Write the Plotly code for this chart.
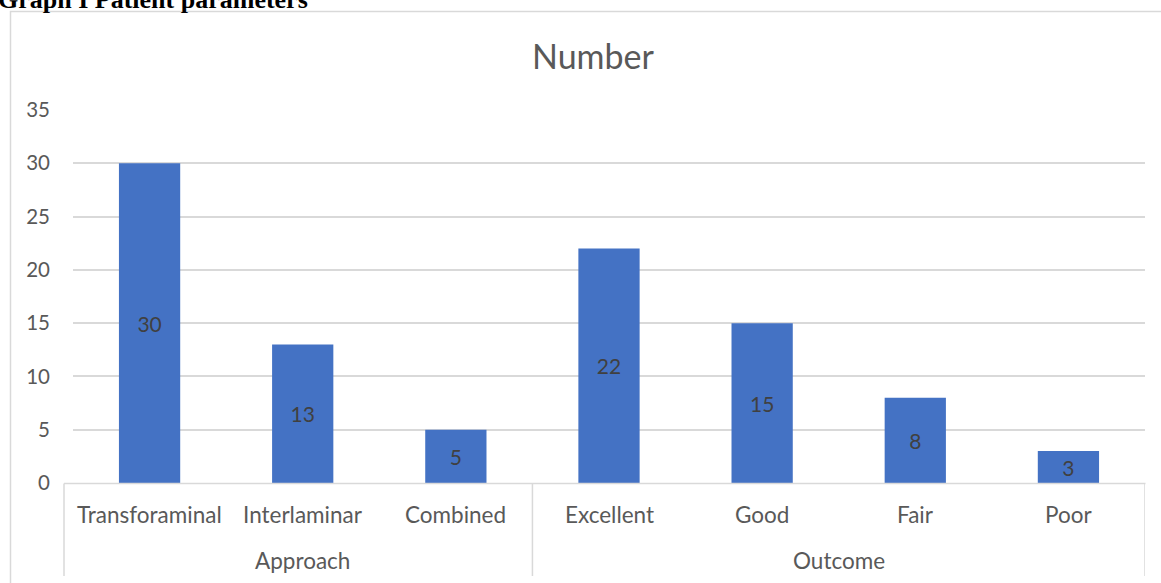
import plotly.graph_objects as go

categories = ["Transforaminal", "Interlaminar", "Combined", "Excellent", "Good", "Fair", "Poor"]
values = [30, 13, 5, 22, 15, 8, 3]
groups = ["Approach", "Outcome"]
group_sizes = [3, 4]
y_ticks = [0, 5, 10, 15, 20, 25, 30, 35]

W, H = 1161, 583
L, R, T, B = 73, 16, 110, 100
PW, PH = W - L - R, H - T - B

def px_x(p):
    return (p - L) / PW

def px_y(p):
    return 1 - (p - T) / PH

FONT = "Lato, Carlito, 'Open Sans', sans-serif"
GRID = "#d9d9d9"
TXT = "#595959"

x_idx = list(range(len(categories)))

fig = go.Figure(go.Bar(
    x=x_idx, y=values, width=0.4,
    marker=dict(color="#4472C4", line=dict(width=0)),
    text=[str(v) for v in values], textposition="inside",
    insidetextanchor="middle", constraintext="none",
    textfont=dict(family=FONT, size=21, color="#404040"),
    hoverinfo="skip",
))

shapes = []
# border box
shapes.append(dict(type="rect", xref="paper", yref="paper",
                   x0=px_x(10.5), x1=px_x(1200), y0=px_y(11.5), y1=px_y(700),
                   line=dict(color=GRID, width=1.5), layer="below"))
# axis line
shapes.append(dict(type="line", xref="paper", yref="paper",
                   x0=px_x(64), x1=px_x(1145.5), y0=px_y(483.5), y1=px_y(483.5),
                   line=dict(color=GRID, width=1.5)))
# group dividers
start = -0.5
divs = [start]
for s in group_sizes:
    start += s
    divs.append(start)
for i, d in enumerate(divs):
    xr, xv = ("x", d)
    if i == 0:
        xr, xv = ("paper", px_x(64))
    shapes.append(dict(type="line", xref=xr, yref="paper",
                       x0=xv, x1=xv, y0=px_y(483.5), y1=px_y(576),
                       line=dict(color=GRID, width=1.5)))

annotations = []
for c, name in enumerate(categories):
    annotations.append(dict(x=c, y=px_y(514), xref="x", yref="paper", text=name,
                            showarrow=False, xanchor="center", yanchor="middle",
                            font=dict(family=FONT, size=22.5, color=TXT)))
for g, name in enumerate(groups):
    mid = (divs[g] + divs[g + 1]) / 2
    annotations.append(dict(x=mid, y=px_y(560), xref="x", yref="paper", text=name,
                            showarrow=False, xanchor="center", yanchor="middle",
                            font=dict(family=FONT, size=22.5, color=TXT)))
annotations.append(dict(x=px_x(593), y=px_y(55), xref="paper", yref="paper", text="Number",
                        showarrow=False, xanchor="center", yanchor="middle",
                        font=dict(family=FONT, size=34, color=TXT)))
annotations.append(dict(x=px_x(-4), y=px_y(-1), xref="paper", yref="paper",
                        text="<b>Graph I Patient parameters</b>",
                        showarrow=False, xanchor="left", yanchor="middle",
                        font=dict(family="'Liberation Serif', 'Times New Roman', serif", size=26, color="#000000")))

fig.update_layout(
    width=W, height=H,
    margin=dict(l=L, r=R, t=T, b=B),
    paper_bgcolor="white", plot_bgcolor="white",
    showlegend=False,
    bargap=0.6,
    xaxis=dict(range=[-0.5, len(categories) - 0.5], showticklabels=False, showgrid=False,
               zeroline=False, showline=False, fixedrange=True),
    yaxis=dict(range=[0, 35], tickvals=y_ticks, showgrid=True, gridcolor=GRID, gridwidth=1.5,
               zeroline=False, showline=False, ticks="", ticklabelstandoff=22,
               tickfont=dict(family=FONT, size=20.5, color=TXT), fixedrange=True),
    shapes=shapes, annotations=annotations,
)

fig.write_html("out.html")
